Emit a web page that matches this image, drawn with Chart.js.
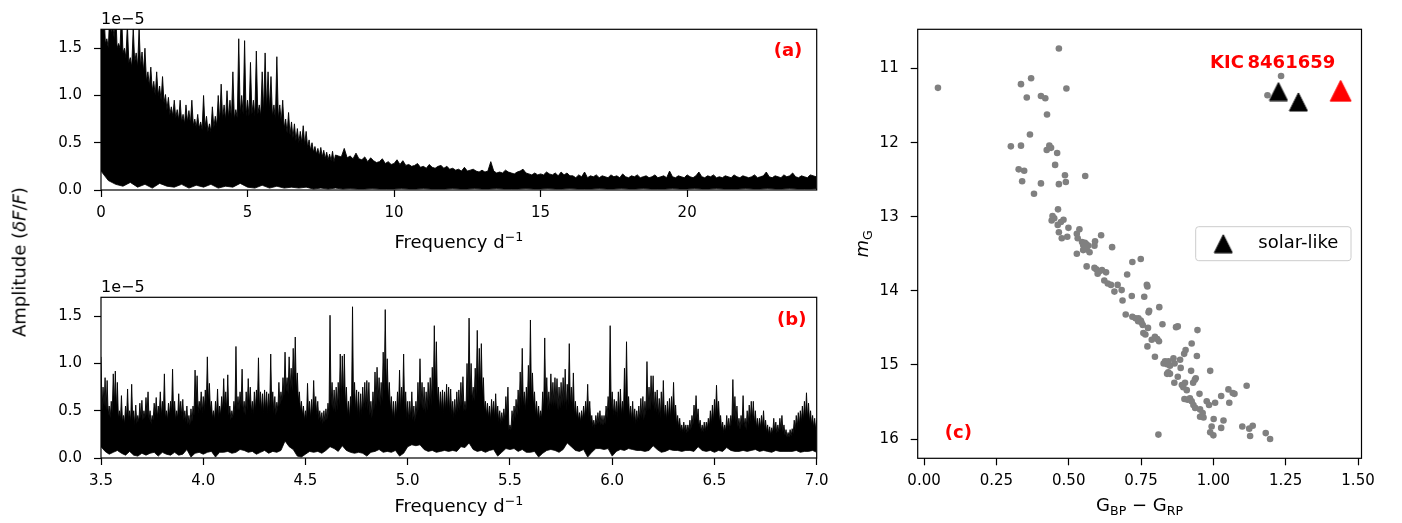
<!DOCTYPE html>
<html><head><meta charset="utf-8">
<script src="https://cdn.jsdelivr.net/npm/chart.js@4.4.1/dist/chart.umd.min.js"></script>
<style>
html,body{margin:0;padding:0;background:#fff;}
body{width:1402px;height:523px;overflow:hidden;position:relative;font-family:'DejaVu Sans',sans-serif;}
canvas{position:absolute;}
#amp{position:absolute;left:19px;top:261.5px;transform:translate(-50%,-50%) rotate(-90deg);white-space:nowrap;font-size:18px;color:#000;}
</style></head><body>
<canvas id="ca" width="850" height="262" style="left:0;top:0"></canvas>
<canvas id="cb" width="850" height="261" style="left:0;top:262px"></canvas>
<canvas id="cc" width="562" height="523" style="left:840px;top:0"></canvas>
<div id="amp">Amplitude (<i>δF</i>/<i>F</i>)</div>
<script>
// ---------- DATA ----------
// Panel (a): amplitude (units of 1e-5); peaks on a grid starting at 0 with step 0.1 d^-1
const hiStepA = 0.1;
const hiA = [
1.9,1.9,1.6,1.9,1.75,1.9,1.55,1.9,1.5,1.75,
1.4,1.72,1.45,1.72,1.46,1.5,1.25,1.3,1.15,1.25,
1.1,1.2,1.01,0.98,0.88,0.95,0.85,0.95,0.8,0.9,
0.84,0.95,0.75,0.8,0.72,1.0,0.78,0.7,0.88,0.78,
1.0,1.12,0.9,1.05,0.95,1.25,0.85,1.6,1.0,1.58,
0.95,1.35,0.95,1.47,0.9,1.25,1.45,1.25,1.2,0.9,
1.41,0.9,0.95,0.75,0.82,0.72,0.7,0.65,0.62,0.68,
0.62,0.53,0.5,0.46,0.44,0.45,0.42,0.4,0.38,0.41,
0.37,0.36,0.35,0.44,0.34,0.36,0.33,0.39,0.33,0.32,
0.35,0.3,0.34,0.31,0.29,0.3,0.33,0.28,0.3,0.27,
0.28,0.32,0.27,0.31,0.26,0.27,0.25,0.26,0.28,0.24,
0.25,0.23,0.27,0.24,0.23,0.25,0.26,0.23,0.25,0.22,
0.23,0.21,0.22,0.2,0.24,0.2,0.21,0.22,0.2,0.19,
0.21,0.19,0.2,0.3,0.2,0.18,0.19,0.18,0.21,0.19,
0.18,0.17,0.19,0.2,0.22,0.18,0.17,0.16,0.18,0.16,
0.17,0.16,0.19,0.17,0.16,0.18,0.15,0.19,0.16,0.18,0.15,
0.15,0.13,0.16,0.14,0.19,0.13,0.15,0.14,0.16,0.13,
0.15,0.14,0.13,0.16,0.14,0.15,0.13,0.17,0.14,0.13,
0.15,0.14,0.16,0.13,0.14,0.15,0.13,0.14,0.16,0.13,
0.14,0.15,0.13,0.2,0.14,0.13,0.15,0.14,0.13,0.16,
0.14,0.13,0.15,0.19,0.14,0.13,0.15,0.14,0.16,0.13,
0.14,0.13,0.15,0.14,0.13,0.16,0.14,0.13,0.15,0.14,
0.13,0.14,0.16,0.13,0.14,0.15,0.19,0.14,0.13,0.15,
0.14,0.13,0.16,0.14,0.15,0.18,0.14,0.13,0.15,0.14,
0.13,0.16,0.15,0.14
];
// local minima between neighbouring peaks of (a), 0-8 d^-1
const troughA = [
1.75,1.55,1.5,1.65,1.6,1.5,1.5,1.45,1.4,1.35,
1.3,1.35,1.3,1.3,1.25,1.15,1.1,1.05,1.0,1.0,
0.95,0.92,0.85,0.8,0.78,0.76,0.74,0.72,0.7,0.72,
0.7,0.68,0.66,0.65,0.64,0.66,0.62,0.62,0.66,0.68,
0.72,0.75,0.74,0.76,0.75,0.75,0.76,0.8,0.8,0.78,
0.78,0.8,0.78,0.8,0.78,0.82,0.85,0.85,0.78,0.75,
0.75,0.72,0.65,0.6,0.58,0.55,0.52,0.5,0.5,0.48,
0.45,0.42,0.4,0.38,0.36,0.35,0.33,0.32,0.31,0.3
];
// lower edge of the noise band in (a), step 0.25 d^-1
const loStepA = 0.25;
const loA = [
0.2,0.1,0.06,0.04,0.08,0.03,0.06,0.02,0.07,0.04,
0.03,0.06,0.02,0.05,0.03,0.06,0.02,0.04,0.03,0.07,
0.03,0.02,0.05,0.02,0.04,0.02,0.03,0.02,0.03,0.01,
0.02,0.01,0.02,0.01,0.015,0.01,0.01,0.015,0.01,0.01,
0.01,0.015,0.01,0.01,0.015,0.01,0.01,0.01,0.015,0.01,
0.01,0.015,0.01,0.01,0.015,0.01,0.01,0.01,0.015,0.01,
0.01,0.015,0.01,0.01,0.015,0.01,0.01,0.01,0.015,0.01,
0.01,0.015,0.01,0.01,0.015,0.01,0.01,0.01,0.015,0.01,
0.01,0.015,0.01,0.01,0.015,0.01,0.01,0.01,0.015,0.01,
0.01,0.015,0.01,0.01,0.015,0.01,0.01,0.01,0.015
];
// Panel (b): peaks on a grid starting at 3.5 with step 0.01 d^-1
const startB = 3.5;
const hiStepB = 0.01;
const hiB = [
1.07,0.75,0.85,0.82,0.55,0.6,0.89,0.92,0.8,0.5,
0.66,0.45,0.55,0.73,0.5,0.78,0.5,0.56,0.45,0.58,
0.61,0.5,0.64,0.7,0.5,0.45,0.58,0.64,0.55,0.7,
0.6,0.89,0.5,0.58,0.6,0.94,0.6,0.5,0.68,0.6,
0.62,0.5,0.55,0.45,0.52,0.55,0.93,0.87,0.6,0.7,
0.65,0.72,1.07,0.79,0.6,0.5,0.6,0.73,0.55,0.65,
0.84,0.7,0.88,0.55,0.5,0.6,1.18,0.65,0.7,0.94,
0.6,0.7,0.84,0.75,0.6,0.7,0.72,1.06,0.7,0.68,
0.72,0.7,0.68,1.10,0.7,0.65,0.59,0.80,0.7,0.85,
1.12,0.85,1.07,0.95,1.16,1.28,0.9,0.7,0.6,0.55,
0.5,0.79,0.6,0.62,0.82,0.65,0.6,0.5,0.48,0.5,
0.52,0.58,1.51,0.8,0.72,0.75,0.8,1.10,1.08,1.10,
0.75,0.6,0.65,1.60,0.8,0.72,0.7,0.68,0.75,0.8,
0.82,0.8,0.6,0.7,0.91,0.96,0.85,0.8,1.12,1.57,
1.05,0.8,0.65,0.6,0.6,0.7,0.93,0.75,1.10,0.7,
0.6,0.6,0.7,0.55,0.6,0.8,1.05,0.8,0.75,0.7,
0.8,0.85,0.96,1.40,1.23,0.75,0.7,0.72,0.7,0.78,
0.75,0.73,0.6,0.62,0.7,0.72,0.8,0.86,0.6,1.0,
1.48,1.0,0.75,0.95,1.35,1.16,1.21,0.85,0.6,0.58,
0.55,0.62,0.6,0.68,0.55,0.5,0.48,0.52,0.65,0.75,
0.35,0.5,0.55,0.62,0.72,0.91,1.16,0.7,0.75,0.98,
1.46,0.9,0.7,0.6,0.55,0.5,0.7,1.27,0.85,0.7,
0.89,0.8,0.85,0.84,0.75,0.8,0.85,0.94,0.78,1.21,
0.75,0.9,0.6,0.55,0.48,0.5,0.55,0.6,0.78,0.6,
0.45,0.4,0.45,0.48,0.5,0.45,0.45,0.55,0.65,1.40,
0.7,0.62,0.6,0.7,0.73,0.6,0.95,1.23,0.65,0.55,
0.6,0.52,0.5,0.55,0.63,0.65,0.6,1.02,0.75,0.87,
0.87,0.7,0.72,0.63,0.7,0.82,0.56,0.6,0.63,0.65,
0.80,0.56,0.45,0.42,0.35,0.38,0.35,0.35,0.4,0.45,
0.56,0.66,0.52,0.4,0.35,0.38,0.38,0.42,0.5,0.56,
0.62,0.77,0.6,0.45,0.38,0.35,0.45,0.42,0.45,0.83,
0.65,0.55,0.42,0.45,0.66,0.42,0.5,0.56,0.6,0.6,
0.5,0.42,0.42,0.45,0.5,0.4,0.35,0.33,0.32,0.42,
0.38,0.35,0.42,0.45,0.35,0.3,0.27,0.3,0.31,0.4,
0.45,0.48,0.5,0.55,0.6,0.69,0.58,0.5,0.45,0.42,0.4
];
// local minima between neighbouring peaks of (b)
const troughB = [
0.5,0.55,0.5,0.45,0.42,0.48,0.55,0.5,0.42,0.4,
0.38,0.36,0.42,0.4,0.38,0.4,0.35,0.36,0.38,0.42,
0.4,0.42,0.45,0.4,0.36,0.4,0.45,0.42,0.45,0.44,
0.45,0.42,0.4,0.45,0.48,0.46,0.4,0.42,0.45,0.44,
0.4,0.38,0.36,0.35,0.38,0.45,0.55,0.48,0.5,0.48,
0.5,0.55,0.58,0.5,0.42,0.4,0.45,0.42,0.45,0.5,
0.52,0.5,0.45,0.4,0.42,0.48,0.5,0.5,0.55,0.48,
0.45,0.5,0.55,0.48,0.46,0.5,0.55,0.52,0.5,0.48,
0.5,0.48,0.5,0.55,0.48,0.45,0.5,0.55,0.6,0.65,
0.7,0.68,0.72,0.7,0.75,0.7,0.6,0.5,0.45,0.4,
0.4,0.45,0.42,0.45,0.5,0.45,0.4,0.38,0.36,0.38,
0.4,0.45,0.55,0.5,0.48,0.5,0.55,0.6,0.6,0.55,
0.45,0.42,0.5,0.55,0.5,0.45,0.42,0.45,0.5,0.52,
0.5,0.45,0.42,0.5,0.55,0.6,0.55,0.6,0.7,0.7,
0.6,0.5,0.42,0.4,0.45,0.5,0.5,0.55,0.5,0.42,
0.4,0.42,0.4,0.38,0.45,0.5,0.55,0.5,0.48,0.5,
0.55,0.55,0.6,0.7,0.6,0.5,0.5,0.48,0.5,0.5,
0.48,0.45,0.42,0.45,0.48,0.5,0.55,0.5,0.5,0.6,
0.65,0.6,0.6,0.65,0.7,0.7,0.65,0.5,0.45,0.42,
0.4,0.45,0.42,0.42,0.38,0.36,0.38,0.4,0.45,0.3,
0.3,0.38,0.42,0.45,0.5,0.55,0.55,0.5,0.55,0.6,
0.6,0.55,0.45,0.42,0.4,0.42,0.5,0.55,0.5,0.5,
0.55,0.55,0.55,0.5,0.52,0.55,0.55,0.5,0.55,0.55,
0.5,0.45,0.42,0.4,0.38,0.4,0.42,0.45,0.42,0.38,
0.33,0.32,0.35,0.36,0.35,0.34,0.36,0.42,0.5,0.5,
0.45,0.45,0.42,0.45,0.45,0.45,0.5,0.5,0.42,0.4,
0.38,0.36,0.38,0.4,0.42,0.4,0.45,0.5,0.5,0.55,
0.5,0.48,0.45,0.42,0.45,0.42,0.4,0.42,0.42,0.45,
0.42,0.35,0.32,0.28,0.27,0.28,0.26,0.28,0.3,0.35,
0.4,0.4,0.33,0.28,0.27,0.28,0.3,0.33,0.36,0.38,
0.42,0.45,0.38,0.3,0.27,0.28,0.3,0.3,0.35,0.4,
0.38,0.33,0.3,0.34,0.33,0.3,0.35,0.38,0.4,0.36,
0.32,0.3,0.32,0.33,0.3,0.27,0.25,0.24,0.26,0.28,
0.26,0.27,0.3,0.28,0.24,0.22,0.22,0.23,0.26,0.3,
0.33,0.35,0.38,0.4,0.42,0.42,0.38,0.35,0.32,0.3
];
// lower edge of the noise band in (b), step 0.02 d^-1
const loStepB = 0.02;
const loB = [
0.12,0.07,0.04,0.06,0.08,0.05,0.03,0.07,0.03,0.02,
0.05,0.03,0.05,0.06,0.02,0.06,0.04,0.03,0.06,0.03,
0.04,0.09,0.01,0.05,0.06,0.04,0.06,0.07,0.01,0.06,
0.06,0.07,0.05,0.06,0.09,0.08,0.06,0.07,0.04,0.06,
0.08,0.05,0.07,0.06,0.08,
0.18,0.12,0.09,0.02,0.01,0.04,0.07,0.06,0.07,0.05,
0.08,0.12,0.1,0.07,0.13,0.08,0.06,0.05,0.06,0.05,
0.02,0.06,0.07,0.09,0.06,0.07,0.06,0.08,0.02,0.05,
0.12,0.14,0.13,0.14,0.09,0.07,0.08,0.06,0.07,0.08,
0.07,0.08,0.07,
0.12,0.11,0.16,0.09,0.07,0.08,0.06,0.08,0.09,0.02,
0.06,0.1,0.09,0.1,0.07,0.09,0.06,0.06,0.07,0.01,
0.05,0.08,0.09,0.08,0.06,0.09,0.16,0.12,0.08,0.07,
0.09,0.01,0.06,0.1,0.1,0.09,0.1,0.02,0.07,0.09,
0.08,0.1,0.09,0.08,
0.08,0.07,0.08,0.13,0.09,0.06,0.07,0.09,0.08,0.08,
0.07,0.08,0.08,0.07,0.12,0.08,0.07,0.08,0.06,0.08,
0.07,0.11,0.08,0.07,0.07,0.08,0.07,0.08,0.09,0.07,
0.08,0.07,0.06,0.08,0.07,0.07,0.07,0.07,0.08,0.06,
0.07,0.07,0.08,0.06
];
// Panel (c): colour-magnitude diagram
const bpRp = [0.466,0.048,0.370,0.335,0.492,0.355,0.404,0.419,0.425,0.366,
0.300,0.335,0.433,0.439,0.424,0.460,0.453,0.327,0.346,0.487,
0.557,0.339,0.404,0.490,0.466,0.380,0.463,0.444,0.450,0.441,
0.482,0.473,0.462,0.499,0.466,0.537,0.528,0.476,0.495,0.531,
0.546,0.556,0.560,0.550,0.567,0.591,0.612,0.589,0.650,0.528,
0.572,0.550,0.562,0.562,0.589,0.595,0.605,0.615,0.629,0.600,
0.623,0.635,0.646,0.669,0.658,0.683,0.702,0.720,0.749,0.686,
0.718,0.697,0.720,0.731,0.740,0.770,0.772,0.761,0.778,0.776,
0.813,0.741,0.749,0.752,0.756,0.824,0.774,0.765,0.758,0.798,
0.806,0.787,0.812,0.772,0.871,0.877,0.945,0.925,0.904,0.899,
0.798,0.943,0.833,0.845,0.828,0.840,0.862,0.866,0.885,0.850,
0.844,0.850,0.840,0.887,0.923,0.989,0.939,0.936,0.930,0.877,
0.865,0.891,0.902,0.896,0.908,1.115,1.052,1.073,1.067,1.027,
0.952,0.900,0.911,0.919,0.925,0.931,1.055,0.977,0.985,1.006,
0.937,0.954,0.963,0.954,0.966,1.001,1.035,1.027,0.994,0.989,
1.000,1.100,1.124,1.136,1.127,1.181,1.196,0.810,1.234,1.187];
const gMag = [10.73,11.26,11.13,11.21,11.27,11.39,11.37,11.40,11.62,11.89,
12.05,12.04,12.04,12.07,12.10,12.14,12.30,12.36,12.38,12.44,
12.45,12.52,12.55,12.53,12.56,12.69,12.90,12.99,13.02,13.05,
13.04,13.07,13.11,13.15,13.21,13.17,13.23,13.29,13.27,13.29,
13.34,13.35,13.37,13.38,13.39,13.33,13.25,13.39,13.41,13.50,
13.48,13.45,13.44,13.67,13.69,13.71,13.74,13.72,13.75,13.77,
13.86,13.90,13.92,13.92,14.01,13.99,13.78,13.61,13.57,14.13,
14.07,14.32,14.35,14.37,14.41,13.92,13.94,14.08,14.27,14.29,
14.22,14.37,14.40,14.43,14.46,14.45,14.50,14.59,14.57,14.62,
14.65,14.66,14.68,14.75,14.49,14.48,14.53,14.71,14.80,14.85,
14.89,14.88,14.95,14.95,14.98,14.99,14.91,14.98,14.93,15.01,
15.10,15.12,15.12,15.04,15.08,15.08,15.18,15.20,15.24,15.16,
15.24,15.27,15.24,15.30,15.34,15.28,15.33,15.39,15.38,15.42,
15.39,15.46,15.47,15.45,15.49,15.54,15.51,15.49,15.54,15.51,
15.58,15.60,15.65,15.70,15.71,15.73,15.75,15.85,15.83,15.91,
15.95,15.83,15.86,15.82,15.96,15.92,16.00,15.94,11.10,11.36];
const solarBpRp = [1.225, 1.294];
const solarG = [11.31, 11.45];
const kicBpRp = [1.440];
const kicG = [11.30];
// tick labels
const ticksAX = [0,5,10,15,20];
const ticksAY = [0.0,0.5,1.0,1.5];
const ticksBX = [3.5,4.0,4.5,5.0,5.5,6.0,6.5,7.0];
const ticksBY = [0.0,0.5,1.0,1.5];
const ticksCX = [0.00,0.25,0.50,0.75,1.00,1.25,1.50];
const ticksCY = [11,12,13,14,15,16];

// ---------- RENDER ----------
const FAM = "'DejaVu Sans', sans-serif";
const FONT = {family: FAM, size: 15};
Chart.defaults.font.family = FAM;
Chart.defaults.font.size = 15;
Chart.defaults.color = '#000';

function axis(pos, min, max, ticks, fmt, size, pad, reverse){
  return {
    type:'linear', position:pos, min, max, bounds:'data', reverse: !!reverse,
    afterBuildTicks: s => { s.ticks = ticks.map(v => ({value: v})); },
    afterFit: s => { if (pos === 'bottom') s.height = size; else s.width = size; },
    ticks:{font:FONT, color:'#000', padding:pad, maxRotation:0, minRotation:0, autoSkip:false, callback: fmt},
    grid:{display:true, drawOnChartArea:false, drawTicks:true, tickLength:7, tickColor:'#000', tickWidth:1.2, color:'#000'},
    border:{display:false},
    title:{display:false}
  };
}
const frame = {id:'frame', afterDraw(chart){
  const {ctx, chartArea:a} = chart;
  ctx.save(); ctx.strokeStyle='#000'; ctx.lineWidth=1.2;
  ctx.strokeRect(a.left, a.top, a.right-a.left, a.bottom-a.top);
  ctx.restore();
}};
function drawParts(ctx, parts, cx, cy){
  let w = 0;
  parts.forEach(p => { ctx.font = (p[3]||'') + ' ' + p[1] + 'px ' + FAM; p.w = ctx.measureText(p[0]).width; w += p.w; });
  let x = cx - w/2;
  ctx.textAlign='left'; ctx.textBaseline='alphabetic';
  parts.forEach(p => { ctx.font = (p[3]||'') + ' ' + p[1] + 'px ' + FAM; ctx.fillText(p[0], x, cy + p[2]); x += p.w; });
}
function specLabels(label, dx, dy, titleBase){
  return {id:'lbl', afterDraw(chart){
    const {ctx, chartArea:a} = chart;
    ctx.save();
    ctx.fillStyle='#000'; ctx.font = "16px " + FAM; ctx.textAlign='left'; ctx.textBaseline='alphabetic';
    ctx.fillText('1e\u22125', a.left, a.top - 5.5);
    drawParts(ctx, [['Frequency d',18,0],['\u22121',12.6,-7]], (a.left+a.right)/2, titleBase);
    ctx.fillStyle='#ff0000'; ctx.font = "bold 18px " + FAM; ctx.textAlign='center'; ctx.textBaseline='middle';
    ctx.fillText(label, a.right - dx, a.top + dy);
    ctx.restore();
  }};
}
const base = {responsive:false, animation:false, events:[], plugins:{legend:{display:false}, tooltip:{enabled:false}}};

function spectrum(id, hi, trough, hiStep, lo, loStep, x0, xmin, xmax, tx, fx, ty, xh, pad, label, dx, dy, tb){
  const upper = [];
  hi.forEach((v, i) => {
    upper.push({x: x0 + i*hiStep, y: v});
    if (i < trough.length) upper.push({x: x0 + (i + 0.5)*hiStep, y: trough[i]});
  });
  new Chart(document.getElementById(id), {
    type:'line',
    data:{datasets:[
      {data: lo.map((v,j)=>({x: x0 + j*loStep, y: v})), borderColor:'#000', borderWidth:0.8, backgroundColor:'#fff', fill:'origin', pointRadius:0, tension:0, order:0},
      {data: upper, borderColor:'#000', borderWidth:0.9, backgroundColor:'#000', fill:'origin', pointRadius:0, tension:0, order:1}
    ]},
    options: Object.assign({}, base, {
      layout:{padding: pad},
      scales:{
        x: axis('bottom', xmin, xmax, tx, fx, xh, 7),
        y: axis('left', 0, 1.7, ty, v => v.toFixed(1), 101, 12)
      }
    }),
    plugins:[frame, specLabels(label, dx, dy, tb)]
  });
}
spectrum('ca', hiA, troughA, hiStepA, loA, loStepA, 0, 0, 24.42, ticksAX, v => String(v), ticksAY, 60,
  {left:0, top:29.3, right:33.3, bottom:12}, '(a)', 28.7, 22.4, 247.5);
spectrum('cb', hiB, troughB, hiStepB, loB, loStepB, startB, 3.5, 7.0, ticksBX, v => v.toFixed(1), ticksBY, 56,
  {left:0, top:35.3, right:33.3, bottom:9}, '(b)', 25, 23, 249.5);

function triangle(color, w, h){
  const c = document.createElement('canvas');
  c.width = Math.ceil(w) + 2; c.height = Math.ceil(h) + 2;
  const g = c.getContext('2d');
  g.fillStyle = color; g.strokeStyle = color; g.lineWidth = 1; g.lineJoin = 'round';
  g.beginPath(); g.moveTo(c.width/2, 1); g.lineTo(c.width-1, c.height-1); g.lineTo(1, c.height-1); g.closePath();
  g.fill(); g.stroke();
  return c;
}
const triBlack = triangle('#000', 18, 18);
const triRed = triangle('#ff0000', 21, 21);

const cmdText = {id:'cmdText', afterDraw(chart){
  const {ctx, chartArea:a, scales:{x:xs, y:ys}} = chart;
  ctx.save();
  ctx.fillStyle='#ff0000'; ctx.font = "bold 18px " + FAM; ctx.textAlign='center'; ctx.textBaseline='middle';
  ctx.fillText('KIC\u20098461659', xs.getPixelForValue(1.205), ys.getPixelForValue(10.93));
  ctx.fillText('(c)', a.left + 40.6, a.bottom - 25);
  // legend
  const L = a.left + 278, T = a.top + 197.4, W = 155.3, H = 34, r = 3;
  ctx.beginPath();
  ctx.moveTo(L+r, T); ctx.lineTo(L+W-r, T); ctx.quadraticCurveTo(L+W, T, L+W, T+r);
  ctx.lineTo(L+W, T+H-r); ctx.quadraticCurveTo(L+W, T+H, L+W-r, T+H);
  ctx.lineTo(L+r, T+H); ctx.quadraticCurveTo(L, T+H, L, T+H-r);
  ctx.lineTo(L, T+r); ctx.quadraticCurveTo(L, T, L+r, T); ctx.closePath();
  ctx.fillStyle='rgba(255,255,255,0.8)'; ctx.fill();
  ctx.strokeStyle='#cccccc'; ctx.lineWidth=1; ctx.stroke();
  ctx.drawImage(triBlack, L + 27.6 - triBlack.width/2, T + 17 - triBlack.height/2);
  ctx.fillStyle='#000'; ctx.font = "18px " + FAM; ctx.textAlign='left'; ctx.textBaseline='middle';
  ctx.fillText('solar-like', L + 62.6, T + 16.5);
  // axis titles
  ctx.fillStyle='#000';
  drawParts(ctx, [['G',18,0],['BP',12.6,4],[' \u2212 ',18,0],['G',18,0],['RP',12.6,4]], (a.left+a.right)/2, 511);
  ctx.translate(28, (a.top+a.bottom)/2);
  ctx.rotate(-Math.PI/2);
  drawParts(ctx, [['m',18,0,'italic'],['G',12.6,4]], 0, 0);
  ctx.restore();
}};

new Chart(document.getElementById('cc'), {
  type:'scatter',
  data:{datasets:[
    {data: kicBpRp.map((v,i)=>({x:v, y:kicG[i]})), pointStyle: triRed, pointRadius:10, order:0},
    {data: solarBpRp.map((v,i)=>({x:v, y:solarG[i]})), pointStyle: triBlack, pointRadius:9, order:1},
    {data: bpRp.map((v,i)=>({x:v, y:gMag[i]})), pointStyle:'circle', pointRadius:3.3, backgroundColor:'#808080', borderWidth:0, order:2}
  ]},
  options: Object.assign({}, base, {
    layout:{padding:{left:0, top:29.3, right:40.5, bottom:9}},
    scales:{
      x: axis('bottom', -0.022, 1.512, ticksCX, v => v.toFixed(2), 55.7, 7),
      y: axis('left', 10.47, 16.26, ticksCY, v => String(v), 77.7, 12, true)
    }
  }),
  plugins:[frame, cmdText]
});
</script>
</body></html>
